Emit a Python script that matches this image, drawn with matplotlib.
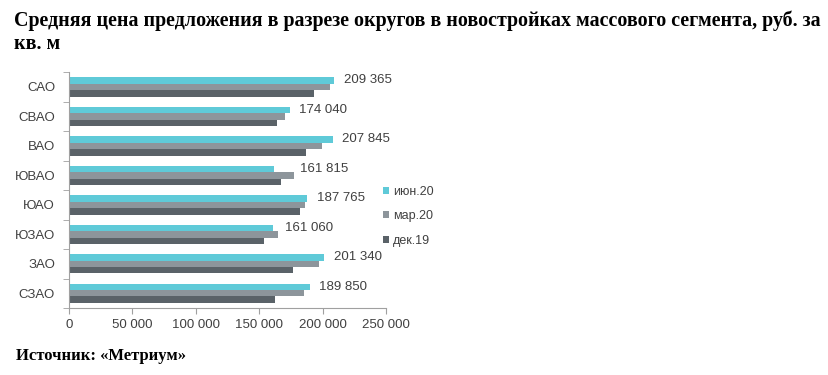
import matplotlib
matplotlib.use("Agg")
import matplotlib.pyplot as plt
import numpy as np

# data
okruga = ["САО", "СВАО", "ВАО", "ЮВАО", "ЮАО", "ЮЗАО", "ЗАО", "СЗАО"]
jun20 = [209365, 174040, 207845, 161815, 187765, 161060, 201340, 189850]
mar20 = [205800, 170600, 199500, 177400, 186400, 165100, 197200, 185600]
dec19 = [193200, 163800, 186900, 167400, 182200, 154000, 176900, 162400]
series_names = ["июн.20", "мар.20", "дек.19"]
xticks = [0, 50000, 100000, 150000, 200000, 250000]

colors = ["#5FCAD8", "#8D959B", "#5A6268"]
txt = "#404040"

def fmt(v):
    return "{:,}".format(v).replace(",", " ")

plt.rcParams["font.family"] = ["Liberation Sans", "DejaVu Sans"]

fig = plt.figure(figsize=(8.29, 3.75), dpi=100)
ax = fig.add_axes([0.0832, 0.1787, 0.3824, 0.629])

y = np.arange(len(okruga))
h = 0.22
for i, (vals, name) in enumerate(zip([jun20, mar20, dec19], series_names)):
    ax.barh(y + (i - 1) * h, vals, height=h, color=colors[i], label=name)

# labels only for the latest series, pushed clear of a longer mar bar
for yi, v, m in zip(y, jun20, mar20):
    ax.text(max(v + 7500, m + 5000), yi - h, fmt(v), fontsize=9.5, color=txt, va="center")

ax.set_ylim(len(okruga) - 0.5, -0.5)
ax.set_xlim(0, 250000)
ax.set_xticks(xticks)
ax.set_xticklabels([fmt(t) for t in xticks], fontsize=9.5, color=txt)
ax.set_yticks(y)
ax.set_yticklabels(okruga, fontsize=9.5, color=txt)
ax.set_yticks(np.arange(len(okruga) + 1) - 0.5, minor=True)
ax.tick_params(axis="y", which="major", length=0, pad=10)
ax.tick_params(axis="y", which="minor", length=4, color="#A0A0A0")
ax.tick_params(axis="x", length=4, color="#A0A0A0", pad=4)

for s in ["top", "right"]:
    ax.spines[s].set_visible(False)
for s in ["left", "bottom"]:
    ax.spines[s].set_color("#A0A0A0")

leg = fig.legend(loc="upper left", bbox_to_anchor=(0.449, 0.535), frameon=False,
                 fontsize=9, handlelength=0.45, handleheight=0.45, handletextpad=0.3,
                 labelspacing=1.0)
for t in leg.get_texts():
    t.set_color(txt)

fig.text(0.017, 0.945, "Средняя цена предложения в разрезе округов в новостройках массового сегмента, руб. за",
         fontsize=14.4, fontweight="bold", family="Liberation Serif", va="center")
fig.text(0.017, 0.882, "кв. м", fontsize=14.4, fontweight="bold", family="Liberation Serif", va="center")
fig.text(0.019, 0.05, "Источник: «Метриум»", fontsize=12, fontweight="bold",
         family="Liberation Serif", va="center")

fig.savefig("out.png", dpi=100)
